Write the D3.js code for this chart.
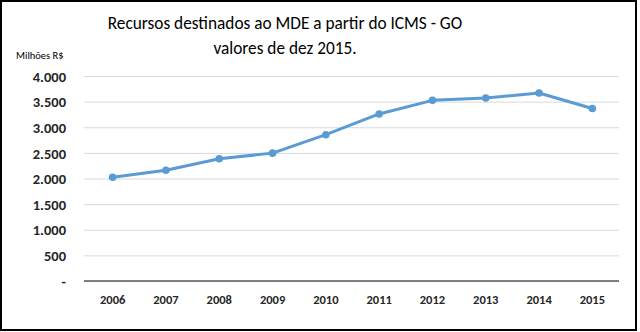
<!DOCTYPE html>
<html><head><meta charset="utf-8">
<script src="https://cdn.jsdelivr.net/npm/d3@7"></script>
<style>body{margin:0;background:#fff;} svg{display:block;}</style>
</head><body>
<svg id="c" width="640" height="332"></svg>
<script>
const years = ["2006","2007","2008","2009","2010","2011","2012","2013","2014","2015"];
const values = [2025, 2160, 2385, 2495, 2855, 3260, 3525, 3570, 3668, 3367];
const yTicks = [0, 500, 1000, 1500, 2000, 2500, 3000, 3500, 4000];
const titleLines = ["Recursos destinados ao MDE a partir do ICMS - GO", "valores de dez 2015."];
const yUnit = "Milhões R$";

const svg = d3.select("#c");
const font = "Carlito, Lato, 'Open Sans', sans-serif";
svg.append("rect").attr("x",1).attr("y",1).attr("width",635).attr("height",329)
  .attr("fill","#fff").attr("stroke","#000").attr("stroke-width",2);

const x = d3.scaleBand().domain(years).range([86,619]);
const y = d3.scaleLinear().domain([0,4000]).range([281,76]);

const yAxis = d3.axisLeft(y).tickValues(yTicks).tickSize(-(619-84))
  .tickFormat(d => d === 0 ? "-" : d3.format(",")(d).replace(/,/g,"."));
const gy = svg.append("g").attr("transform","translate(84,0)").call(yAxis);
gy.select(".domain").remove();
gy.selectAll(".tick line").attr("stroke","#d9d9d9").attr("stroke-width",1);
gy.selectAll(".tick text").attr("x",-18).attr("dy","0.36em").attr("font-family",font).attr("font-size",14.5)
  .attr("font-weight","bold").attr("fill","#262626");

const xAxis = d3.axisBottom(x).tickSize(0).tickPadding(14);
const gx = svg.append("g").attr("transform","translate(0,281)").call(xAxis);
gx.select(".domain").attr("stroke","#595959").attr("stroke-width",1.5).attr("d","M84,0H619");
gx.selectAll(".tick text").attr("font-family",font).attr("font-size",12.5)
  .attr("font-weight","bold").attr("fill","#262626");

const data = years.map((yr,i)=>({yr, v: values[i]}));
const line = d3.line().x(d=>x(d.yr)+x.bandwidth()/2).y(d=>y(d.v));
svg.append("path").datum(data).attr("d",line).attr("fill","none")
  .attr("stroke","#5B9BD5").attr("stroke-width",3).attr("stroke-linejoin","round");
svg.selectAll("circle.pt").data(data).enter().append("circle").attr("class","pt")
  .attr("cx",d=>x(d.yr)+x.bandwidth()/2).attr("cy",d=>y(d.v)).attr("r",3.8)
  .attr("fill","#5B9BD5");

svg.append("text").attr("x",285).attr("y",29).attr("text-anchor","middle")
  .attr("font-family",font).attr("font-size",17.3).attr("fill","#000").text(titleLines[0]);
svg.append("text").attr("x",285).attr("y",54).attr("text-anchor","middle")
  .attr("font-family",font).attr("font-size",17.3).attr("fill","#000").text(titleLines[1]);
svg.append("text").attr("x",16).attr("y",59).attr("font-family",font).attr("font-size",10.5)
  .attr("fill","#000").text(yUnit);
</script>
</body></html>
